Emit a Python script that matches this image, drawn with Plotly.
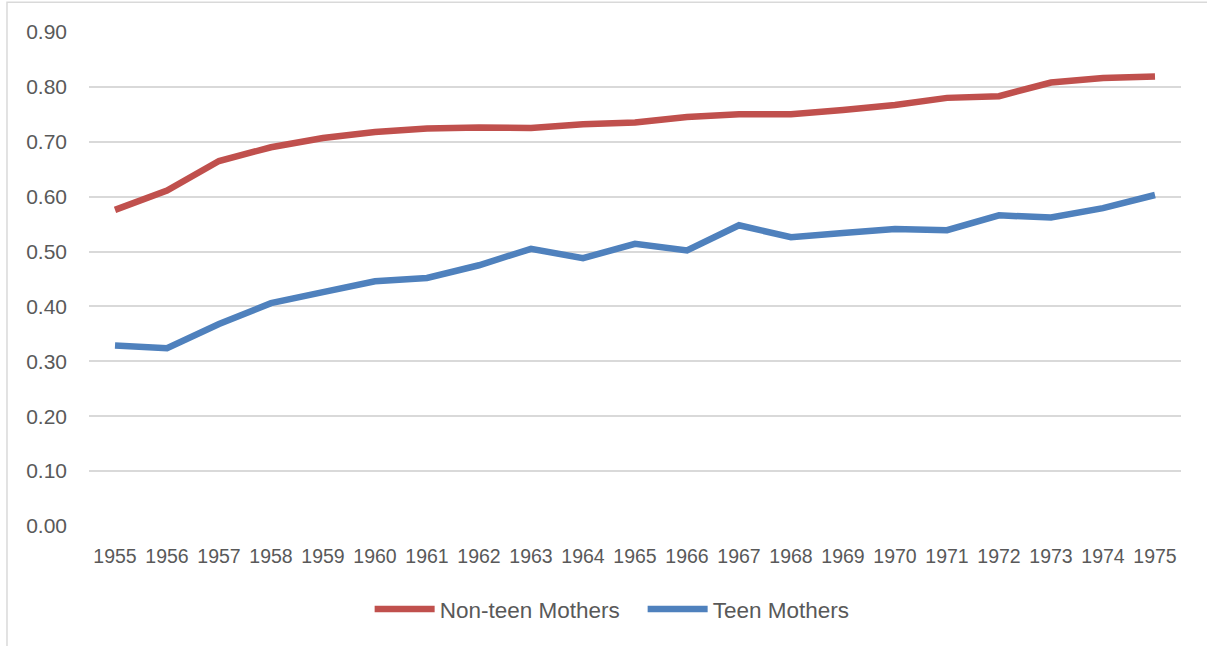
import plotly.graph_objects as go

years = [str(y) for y in range(1955, 1976)]
non_teen = [0.576, 0.611, 0.665, 0.690, 0.707, 0.718, 0.724, 0.726, 0.725, 0.732,
            0.735, 0.745, 0.750, 0.750, 0.758, 0.767, 0.780, 0.783, 0.808, 0.816, 0.819]
teen = [0.329, 0.324, 0.368, 0.406, 0.426, 0.446, 0.452, 0.475, 0.505, 0.488,
        0.514, 0.502, 0.548, 0.526, 0.534, 0.541, 0.539, 0.566, 0.562, 0.579, 0.603]
y_ticks = [0.0, 0.1, 0.2, 0.3, 0.4, 0.5, 0.6, 0.7, 0.8, 0.9]

grey = "#595959"
yfont = dict(family="Liberation Sans", size=21, color=grey)
xfont = dict(family="Liberation Sans", size=19.5, color=grey)
lfont = dict(family="Liberation Sans", size=22.5, color=grey)

fig = go.Figure()
fig.add_trace(go.Scatter(x=years, y=non_teen, name="Non-teen Mothers", mode="lines",
                         line=dict(color="#C0504D", width=6.5)))
fig.add_trace(go.Scatter(x=years, y=teen, name="Teen Mothers", mode="lines",
                         line=dict(color="#4F81BD", width=6.5)))

fig.update_xaxes(type="category", range=[-0.5, 20.5], showgrid=False, showline=False,
                 ticks="", tickfont=xfont, ticklabelstandoff=16, fixedrange=True)
fig.update_yaxes(range=[0, 0.9], tickvals=y_ticks, tickformat=".2f", showgrid=True,
                 gridcolor="#D9D9D9", gridwidth=1.5, zeroline=False, showline=False,
                 ticks="", tickfont=yfont, ticklabelstandoff=21, fixedrange=True)

# outer chart border
fig.add_shape(type="rect", xref="paper", yref="paper", x0=-0.0751, x1=1.05, y0=-0.3, y1=1.06,
              line=dict(color="#D9D9D9", width=1.5), layer="below")

fig.update_layout(
    width=1207, height=646,
    margin=dict(l=89, r=26, t=32, b=120),
    plot_bgcolor="white", paper_bgcolor="white",
    font=yfont,
    showlegend=True,
    legend=dict(orientation="h", x=0.257, xanchor="left", y=-0.125, yanchor="top",
                itemwidth=60, entrywidth=198, font=lfont, traceorder="normal"),
)

# drop the default body margin so the figure sits at the window's corner
fig.write_html("out.html", config={"displayModeBar": False},
               post_script="document.body.style.margin='0';")
